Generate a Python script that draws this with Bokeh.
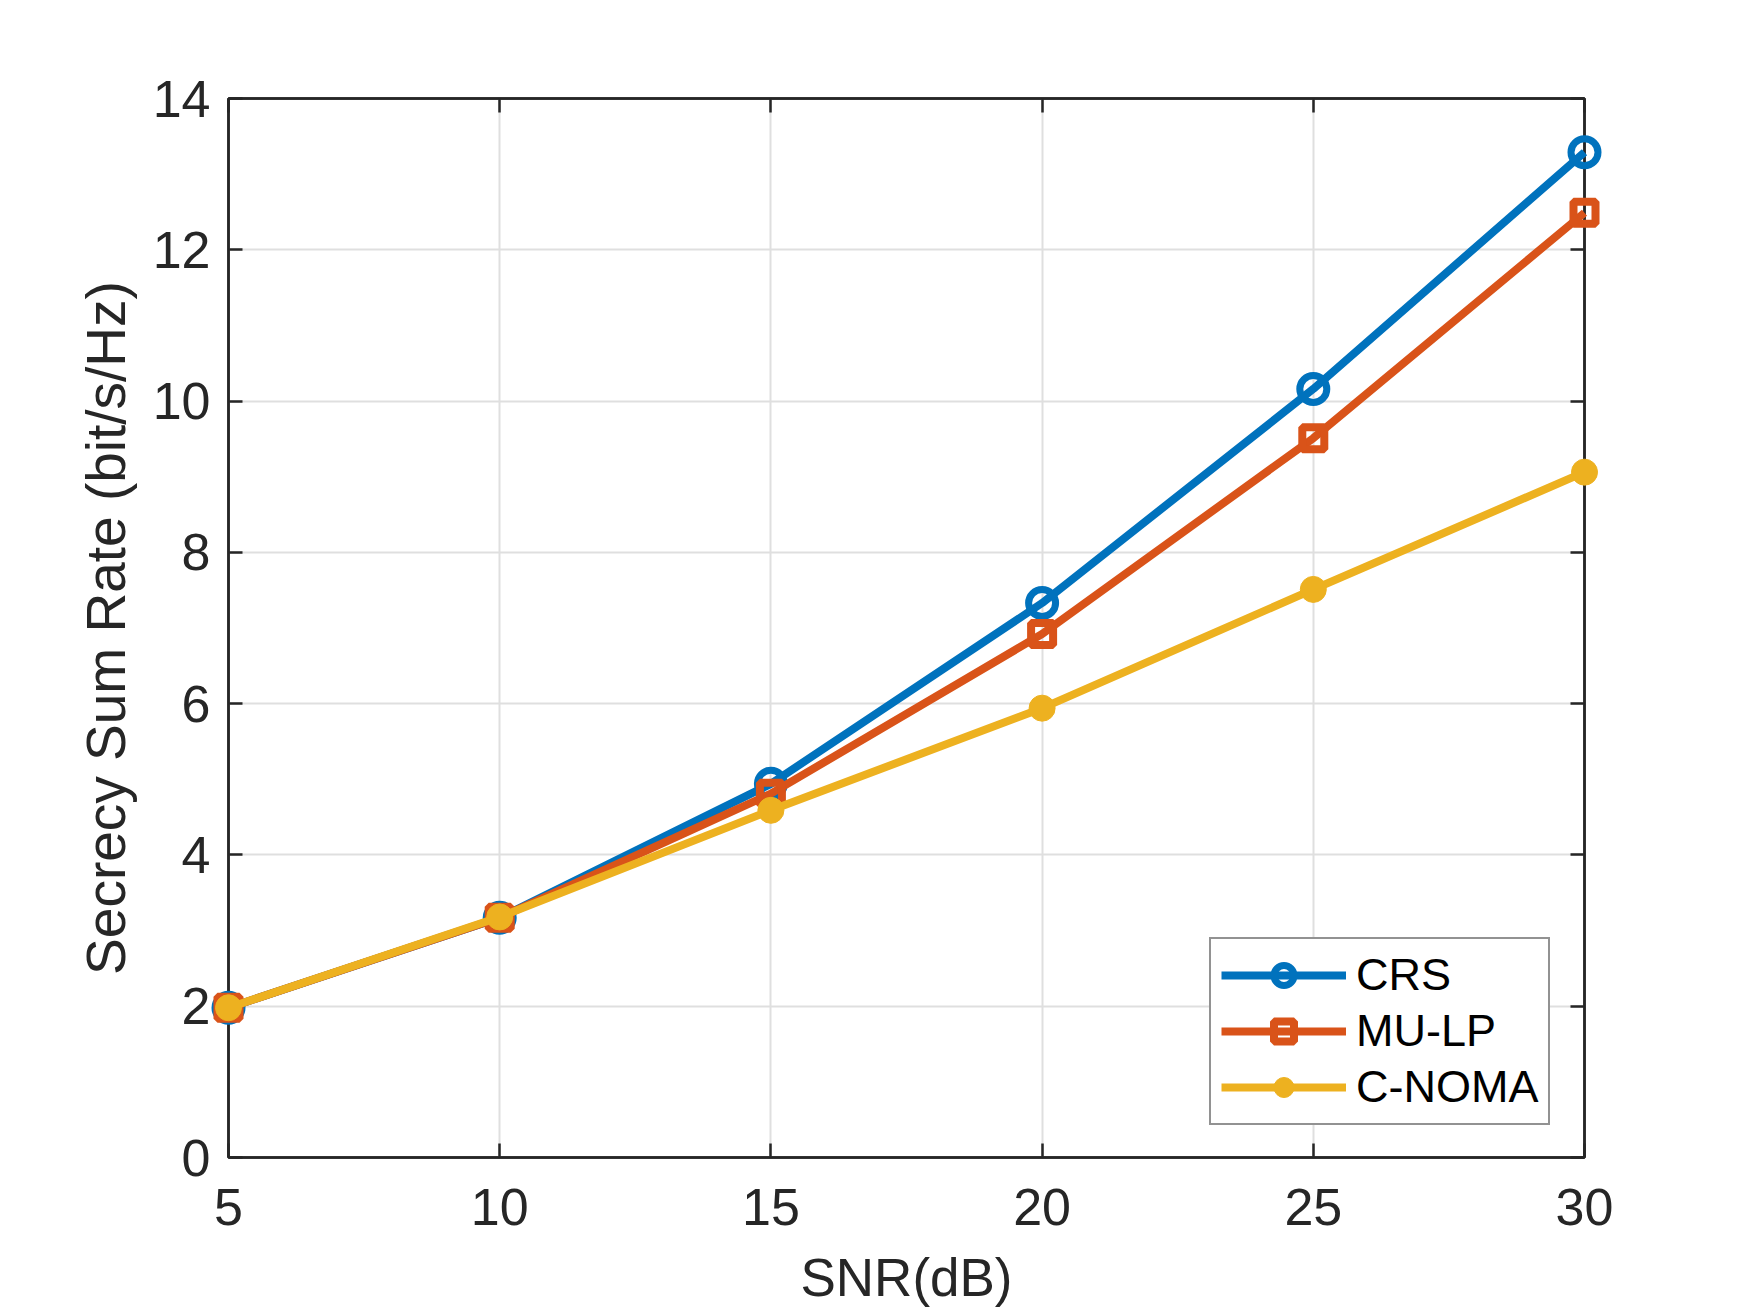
from bokeh.plotting import figure
from bokeh.models import Range1d, FixedTicker, LinearAxis, Legend
from bokeh.embed import file_html
from bokeh.resources import INLINE

snr = [5, 10, 15, 20, 25, 30]
crs = [1.98, 3.17, 4.94, 7.33, 10.16, 13.29]
mulp = [1.98, 3.17, 4.81, 6.92, 9.51, 12.49]
cnoma = [1.98, 3.18, 4.59, 5.94, 7.51, 9.06]
x_ticks = [5, 10, 15, 20, 25, 30]
y_ticks = [0, 2, 4, 6, 8, 10, 12, 14]
x_title = "SNR(dB)"
y_title = "Secrecy Sum Rate (bit/s/Hz)"

FONT = "Liberation Sans"
DARK = "#262626"

p = figure(
    output_backend="svg", toolbar_location=None,
    frame_width=1356, frame_height=1059,
    min_border_left=228, min_border_right=158, min_border_top=98, min_border_bottom=100,
    x_range=Range1d(5, 30), y_range=Range1d(0, 14),
    background_fill_color="white", border_fill_color="white",
)
p.outline_line_color = DARK
p.outline_line_width = 2.5

for ax in (p.xaxis[0], p.yaxis[0]):
    ax.major_tick_in = 14
    ax.major_tick_out = 0
    ax.minor_tick_in = 0
    ax.minor_tick_out = 0
    ax.axis_line_color = DARK
    ax.axis_line_width = 2.5
    ax.major_tick_line_color = DARK
    ax.major_tick_line_width = 2.5
    ax.major_label_text_font = FONT
    ax.major_label_text_font_size = "52px"
    ax.major_label_text_color = DARK
    ax.axis_label_text_font = FONT
    ax.axis_label_text_font_style = "normal"
    ax.axis_label_text_color = DARK

p.xaxis[0].ticker = FixedTicker(ticks=x_ticks)
p.yaxis[0].ticker = FixedTicker(ticks=y_ticks)
p.xaxis[0].axis_label = x_title
p.yaxis[0].axis_label = y_title
p.xaxis[0].axis_label_text_font_size = "53px"
p.yaxis[0].axis_label_text_font_size = "55px"
p.xaxis[0].major_label_standoff = 31
p.yaxis[0].major_label_standoff = 18
p.xaxis[0].axis_label_standoff = 20
p.yaxis[0].axis_label_standoff = 13

top = LinearAxis(ticker=FixedTicker(ticks=x_ticks))
right = LinearAxis(ticker=FixedTicker(ticks=y_ticks))
for ax in (top, right):
    ax.major_tick_in = 14
    ax.major_tick_out = 0
    ax.minor_tick_in = 0
    ax.minor_tick_out = 0
    ax.axis_line_color = DARK
    ax.axis_line_width = 2.5
    ax.major_tick_line_color = DARK
    ax.major_tick_line_width = 2.5
    ax.major_label_text_font_size = "0px"
    ax.major_label_text_alpha = 0
    ax.major_label_standoff = 0
p.add_layout(top, "above")
p.add_layout(right, "right")

p.xgrid.grid_line_color = "#dfdfdf"
p.ygrid.grid_line_color = "#dfdfdf"
p.xgrid.grid_line_width = 2
p.ygrid.grid_line_width = 2
p.xgrid.ticker = FixedTicker(ticks=x_ticks)
p.ygrid.ticker = FixedTicker(ticks=y_ticks)

BLUE, ORANGE, YELLOW = "#0072BD", "#D95319", "#EDB120"
LW = 8

l1 = p.line(snr, crs, line_color=BLUE, line_width=LW, level="overlay")
m1 = p.scatter(snr, crs, marker="circle", size=27, fill_color=None, line_color=BLUE,
               line_width=7, level="overlay")
l2 = p.line(snr, mulp, line_color=ORANGE, line_width=LW, level="overlay")
m2 = p.scatter(snr, mulp, marker="square", size=22, fill_color=None,
               line_color=ORANGE, line_width=8, level="overlay")
l3 = p.line(snr, cnoma, line_color=YELLOW, line_width=LW, level="overlay")
m3 = p.scatter(snr, cnoma, marker="circle", size=26, fill_color=YELLOW, line_color=YELLOW,
               line_width=1, level="overlay")

legend = Legend(
    items=[("CRS", [l1, m1]), ("MU-LP", [l2, m2]), ("C-NOMA", [l3, m3])],
    location=(981, 32),
    label_text_font=FONT, label_text_font_size="45px", label_text_color="black",
    glyph_width=125, glyph_height=50, label_height=50, spacing=4, padding=10,
    label_standoff=10, margin=0,
    border_line_color=DARK, border_line_width=2.5,
    background_fill_color="white", background_fill_alpha=1.0,
)
p.add_layout(legend, "center")

open("out.html", "w").write(file_html(p, INLINE))
